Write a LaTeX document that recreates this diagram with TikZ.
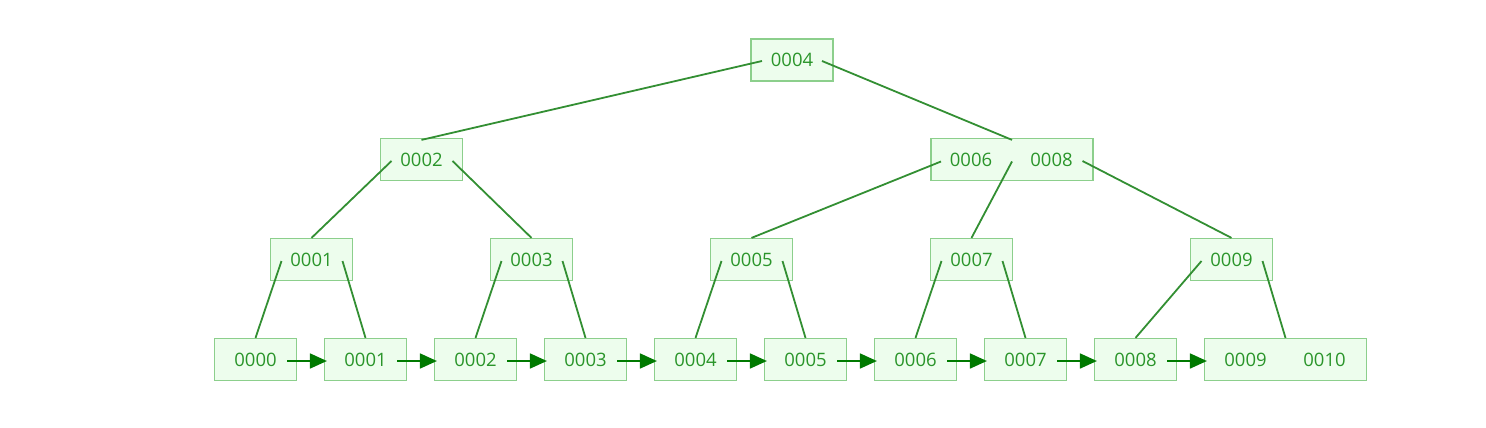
\documentclass[tikz,border=0pt]{standalone}
\usepackage{fontspec}
\setmainfont{Open Sans}
\usetikzlibrary{arrows.meta}
\definecolor{boxfill}{HTML}{EDFDED}
\definecolor{boxline}{HTML}{8CCF8C}
\definecolor{txtcol}{HTML}{2A952A}
\definecolor{edgecol}{HTML}{338F33}
\definecolor{arrcol}{HTML}{007A00}
\tikzset{
  box/.style={draw=boxline, fill=boxfill, line width=1.2pt, minimum width=82pt, minimum height=42pt, inner sep=0pt, text=txtcol, font=\fontsize{18.5}{18.5}\selectfont},
  wide/.style={box, minimum width=162pt},
  key/.style={inner sep=0pt, text=txtcol, font=\fontsize{18.5}{18.5}\selectfont},
  edge/.style={draw=edgecol, line width=1.8pt},
  link/.style={draw=arrcol, line width=1.8pt, -{Triangle[length=17pt, width=15pt]}}
}
\begin{document}
\begin{tikzpicture}[x=1pt, y=-1pt]
\useasboundingbox (0,0) rectangle (1486,428);
% root
\node[box] (r) at (792,60) {0004};
% level 2
\node[box] (a2) at (421.5,159.5) {0002};
\node[wide] (a68) at (1012,159.5) {};
\node[key] (k6) at (971,159.5) {0006};
\node[key] (k8) at (1051.5,159.5) {0008};
% level 3
\node[box] (b1) at (311.5,259.5) {0001};
\node[box] (b3) at (531.5,259.5) {0003};
\node[box] (b5) at (751.5,259.5) {0005};
\node[box] (b7) at (971.5,259.5) {0007};
\node[box] (b9) at (1231.5,259.5) {0009};
% leaves
\node[box] (l0) at (255.5,359.5) {0000};
\node[box] (l1) at (365.5,359.5) {0001};
\node[box] (l2) at (475.5,359.5) {0002};
\node[box] (l3) at (585.5,359.5) {0003};
\node[box] (l4) at (695.5,359.5) {0004};
\node[box] (l5) at (805.5,359.5) {0005};
\node[box] (l6) at (915.5,359.5) {0006};
\node[box] (l7) at (1025.5,359.5) {0007};
\node[box] (l8) at (1135.5,359.5) {0008};
\node[wide] (l9) at (1285.5,359.5) {};
\node[key] (k9) at (1245.5,359.5) {0009};
\node[key] (k10) at (1324.5,359.5) {0010};
% tree edges
\draw[edge] ([xshift=-30pt,yshift=-1pt]r.center) -- ([yshift=-2pt]a2.north);
\draw[edge] ([xshift=30pt,yshift=-1pt]r.center) -- ([yshift=-2pt]a68.north);
\draw[edge] ([xshift=-30pt,yshift=-1.5pt]a2.center) -- (b1.north);
\draw[edge] ([xshift=31pt,yshift=-1.5pt]a2.center) -- (b3.north);
\draw[edge] ([xshift=-30pt,yshift=-2pt]k6.center) -- (b5.north);
\draw[edge] ([yshift=-2pt]a68.center) -- (b7.north);
\draw[edge] ([xshift=31pt,yshift=-1.5pt]k8.center) -- (b9.north);
\foreach \p/\c/\d in {b1/l0/l1, b3/l2/l3, b5/l4/l5, b7/l6/l7, b9/l8/l9}{
  \draw[edge] ([xshift=-30pt,yshift=-1.5pt]\p.center) -- (\c.north);
  \draw[edge] ([xshift=31pt,yshift=-1.5pt]\p.center) -- (\d.north);
}
% leaf links
\foreach \a/\b in {l0/l1, l1/l2, l2/l3, l3/l4, l4/l5, l5/l6, l6/l7, l7/l8, l8/l9}{
  \draw[link] ([xshift=31.5pt,yshift=-1.5pt]\a.center) -- ([xshift=3pt,yshift=-1.5pt]\b.west);
}
\end{tikzpicture}
\end{document}
